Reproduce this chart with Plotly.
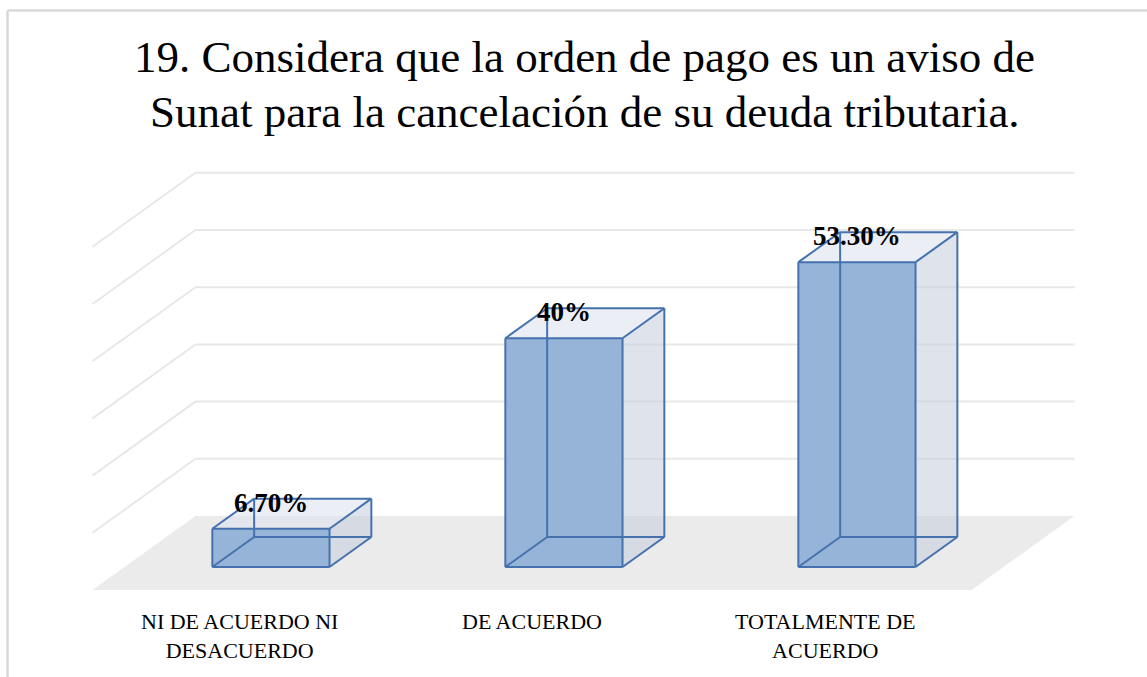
import plotly.graph_objects as go

# ---- data ----
categories = ["NI DE ACUERDO NI<br>DESACUERDO", "DE ACUERDO", "TOTALMENTE DE<br>ACUERDO"]
values = [6.7, 40.0, 53.3]
value_labels = ["6.70%", "40%", "53.30%"]
grid_values = [10, 20, 30, 40, 50, 60]
title_lines = ["19. Considera que la orden de pago es un aviso de",
               "Sunat para la cancelación de su deuda tributaria."]

# ---- 3D projection settings (oblique) ----
DX = 0.3515      # x shift (category units) per unit depth
DY = 12.94       # y shift (% units) per unit depth
D_FRONT = 0.31
D_BACK = 0.716
BAR_W = 0.40
X_MIN, X_MAX = -0.5, 2.5

def proj(x, v, d):
    return x + d * DX, v + d * DY

def path_of(points, close=False):
    s = "M " + " L ".join("%f,%f" % p for p in points)
    return s + (" Z" if close else "")

EDGE = "#4572ad"
FONT = "Liberation Serif"

fig = go.Figure()

shapes = []
# floor
shapes.append(dict(type="path", xref="x", yref="y", layer="below",
                   path=path_of([proj(X_MIN, 0, 0), proj(X_MAX, 0, 0), proj(X_MAX, 0, 1), proj(X_MIN, 0, 1)], True),
                   fillcolor="#ebebeb", line=dict(width=0)))
# gridlines (left wall + back wall)
for v in grid_values:
    shapes.append(dict(type="path", xref="x", yref="y", layer="below",
                       path=path_of([proj(X_MIN, v, 0), proj(X_MIN, v, 1), proj(X_MAX, v, 1)]),
                       line=dict(color="#e8e8e8", width=2)))

# bars: side and top faces
for i, v in enumerate(values):
    xl, xr = i - BAR_W / 2, i + BAR_W / 2
    rx, ry = zip(*[proj(xr, 0, D_FRONT), proj(xr, 0, D_BACK), proj(xr, v, D_BACK), proj(xr, v, D_FRONT), proj(xr, 0, D_FRONT)])
    fig.add_trace(go.Scatter(x=rx, y=ry, fill="toself", fillcolor="rgba(196,204,218,0.55)", mode="none",
                             hoverinfo="skip", showlegend=False))
    tx, ty = zip(*[proj(xl, v, D_FRONT), proj(xr, v, D_FRONT), proj(xr, v, D_BACK), proj(xl, v, D_BACK), proj(xl, v, D_FRONT)])
    fig.add_trace(go.Scatter(x=tx, y=ty, fill="toself", fillcolor="rgba(222,227,238,0.6)", mode="none",
                             hoverinfo="skip", showlegend=False))

# front faces as bars
fig.add_trace(go.Bar(x=[i + D_FRONT * DX for i in range(len(values))], y=values, base=D_FRONT * DY,
                     width=BAR_W, marker=dict(color="#96b3d8", line=dict(width=0)),
                     hoverinfo="skip", showlegend=False))

# edges
for i, v in enumerate(values):
    xl, xr = i - BAR_W / 2, i + BAR_W / 2
    c = {}
    for xn, xx in (("l", xl), ("r", xr)):
        for vn, vv in (("b", 0), ("t", v)):
            for dn, dd in (("f", D_FRONT), ("k", D_BACK)):
                c[xn + vn + dn] = proj(xx, vv, dd)
    edges = [("lbf", "rbf"), ("rbf", "rtf"), ("rtf", "ltf"), ("ltf", "lbf"),
             ("lbk", "rbk"), ("rbk", "rtk"), ("rtk", "ltk"), ("ltk", "lbk"),
             ("lbf", "lbk"), ("rbf", "rbk"), ("rtf", "rtk"), ("ltf", "ltk")]
    ex, ey = [], []
    for a, b in edges:
        ex += [c[a][0], c[b][0], None]
        ey += [c[a][1], c[b][1], None]
    fig.add_trace(go.Scatter(x=ex, y=ey, mode="lines", line=dict(color=EDGE, width=2),
                             hoverinfo="skip", showlegend=False))

annotations = []
# value labels
for i, (v, t) in enumerate(zip(values, value_labels)):
    annotations.append(dict(x=i + D_FRONT * DX, y=v + D_BACK * DY, text="<b>%s</b>" % t, showarrow=False,
                            xanchor="center", yanchor="middle", yshift=-4,
                            font=dict(family=FONT, size=27, color="#000000")))
# category labels
for i, cat in enumerate(categories):
    annotations.append(dict(x=i, y=-3.0, text=cat, showarrow=False, xanchor="center", yanchor="top",
                            font=dict(family=FONT, size=22, color="#000000")))
# title
for yy, line in zip([0.916, 0.835], title_lines):
    annotations.append(dict(xref="paper", yref="paper", x=0.51, y=yy, text=line, showarrow=False,
                            xanchor="center", yanchor="middle",
                            font=dict(family=FONT, size=45, color="#000000")))

W, H = 1147, 677
shapes += [
    dict(type="line", xref="paper", yref="paper", x0=7.5 / W, x1=7.5 / W, y0=0, y1=1 - 10.5 / H,
         line=dict(color="#d9d9d9", width=2.5)),
    dict(type="line", xref="paper", yref="paper", x0=7.5 / W, x1=1, y0=1 - 10.5 / H, y1=1 - 10.5 / H,
         line=dict(color="#d9d9d9", width=2.5)),
]

fig.update_layout(
    width=W, height=H, margin=dict(l=0, r=0, t=0, b=0),
    paper_bgcolor="white", plot_bgcolor="white",
    xaxis=dict(range=[-239 / 293, (W - 239) / 293], visible=False, fixedrange=True),
    yaxis=dict(range=[(590 - H) / 5.72, 590 / 5.72], visible=False, fixedrange=True),
    annotations=annotations, bargap=0, shapes=shapes,
)

fig.write_html("out.html", config={"displayModeBar": False},
               post_script="document.body.style.margin='0px';")
